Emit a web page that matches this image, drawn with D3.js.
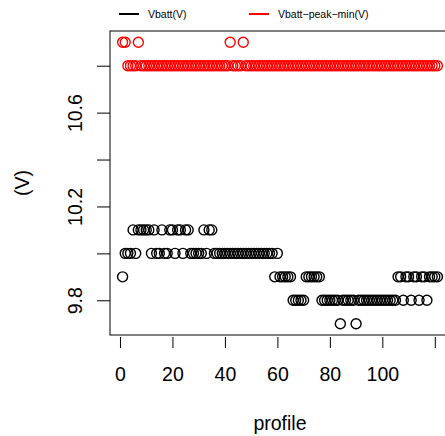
<!DOCTYPE html>
<html>
<head>
<meta charset="utf-8">
<script src="https://cdn.jsdelivr.net/npm/d3@7"></script>
<style>
  html, body { margin: 0; padding: 0; background: #fff; }
  svg { display: block; font-family: "Liberation Sans", Arial, Helvetica, sans-serif; }
</style>
</head>
<body>
<div id="chart"></div>
<script>
// ---- data ----
const seriesNames = ["Vbatt(V)", "Vbatt\u2212peak\u2212min(V)"];
const seriesColors = ["#000000", "#ff0000"];
const vbatt = [
  9.9,10.0,10.0,10.0,10.1,10.0,10.1,10.1,10.1,10.1,10.1,
  10.0,10.1,10.0,10.0,10.1,10.0,10.0,10.1,10.1,10.0,10.1,10.1,10.0,10.1,10.1,
  10.0,10.0,10.0,10.0,10.0,
  10.1,10.0,10.1,10.1,
  10.0,10.0,10.0,10.0,10.0,10.0,10.0,10.0,10.0,10.0,10.0,10.0,
  10.0,10.0,10.0,10.0,10.0,10.0,10.0,10.0,10.0,10.0,10.0,
  9.9,10.0,
  9.9,9.9,9.9,9.9,9.9,
  9.8,9.8,9.8,9.8,9.8,
  9.9,9.9,9.9,9.9,9.9,9.9,
  9.8,9.8,9.8,9.8,9.8,9.8,9.8,
  9.7,
  9.8,9.8,9.8,9.8,9.8,
  9.7,
  9.8,9.8,9.8,9.8,9.8,9.8,9.8,9.8,9.8,9.8,9.8,9.8,9.8,9.8,9.8,
  9.9,9.9,9.8,9.9,9.9,9.8,9.9,9.9,9.8,9.9,9.9,9.8,
  9.9,9.9,9.9,9.9
];
const vbattPeakMin = [
  10.9,10.9,10.8,10.8,10.8,10.8,10.9,10.8,10.8,10.8,
  10.8,10.8,10.8,10.8,10.8,10.8,10.8,10.8,10.8,10.8,
  10.8,10.8,10.8,10.8,10.8,10.8,10.8,10.8,10.8,10.8,
  10.8,10.8,10.8,10.8,10.8,10.8,10.8,10.8,10.8,10.8,
  10.8,10.9,10.8,10.8,10.8,10.8,10.9,10.8,10.8,10.8,
  10.8,10.8,10.8,10.8,10.8,10.8,10.8,10.8,10.8,10.8,
  10.8,10.8,10.8,10.8,10.8,10.8,10.8,10.8,10.8,10.8,
  10.8,10.8,10.8,10.8,10.8,10.8,10.8,10.8,10.8,10.8,
  10.8,10.8,10.8,10.8,10.8,10.8,10.8,10.8,10.8,10.8,
  10.8,10.8,10.8,10.8,10.8,10.8,10.8,10.8,10.8,10.8,
  10.8,10.8,10.8,10.8,10.8,10.8,10.8,10.8,10.8,10.8,
  10.8,10.8,10.8,10.8,10.8,10.8,10.8,10.8,10.8,10.8,
  10.8
];
const profile = d3.range(1, vbatt.length + 1);
const xTicks = [0, 20, 40, 60, 80, 100, 120];
const xTickLabels = ["0", "20", "40", "60", "80", "100", ""];
const yTicks = [9.8, 10.0, 10.2, 10.4, 10.6, 10.8];
const yTickLabels = ["9.8", "", "10.2", "", "10.6", ""];
const xTitle = "profile";
const yTitle = "(V)";

// ---- layout ----
const W = 445, H = 436;
const mLeft = 110, mRight = 450, mTop = 31, mBottom = 335;

const svg = d3.select("#chart").append("svg").attr("width", W).attr("height", H);

// R-style 4% extended domains
const xmin = d3.min(profile), xmax = d3.max(profile);
const allY = vbatt.concat(vbattPeakMin);
const ymin = d3.min(allY), ymax = d3.max(allY);
const xpad = (xmax - xmin) * 0.04, ypad = (ymax - ymin) * 0.04;

const x = d3.scaleLinear().domain([xmin - xpad, xmax + xpad]).range([mLeft, mRight]);
const y = d3.scaleLinear().domain([ymin - ypad, ymax + ypad]).range([mBottom, mTop]);

const fs = 19.5;
const fam = '"Liberation Sans", Arial, sans-serif';

// x axis
const xAxis = svg.append("g")
  .attr("transform", `translate(0,${mBottom + 2})`)
  .call(d3.axisBottom(x).tickValues(xTicks).tickSize(11).tickPadding(19.5)
    .tickFormat((d, i) => xTickLabels[i]));
xAxis.select(".domain").remove();
xAxis.selectAll("line").attr("stroke", "#000").attr("stroke-width", 1);
xAxis.selectAll("text").attr("fill", "#000").style("font-size", fs + "px").style("font-family", fam);

// y axis
const yAxis = svg.append("g")
  .attr("transform", `translate(${mLeft},0)`)
  .call(d3.axisLeft(y).tickValues(yTicks).tickSize(13).tickFormat((d, i) => yTickLabels[i]));
yAxis.select(".domain").remove();
yAxis.selectAll("line").attr("stroke", "#000").attr("stroke-width", 1);
yAxis.selectAll("text")
  .attr("x", null).attr("dy", null)
  .attr("transform", "translate(-28,0) rotate(-90)")
  .attr("text-anchor", "middle")
  .attr("fill", "#000").style("font-size", fs + "px").style("font-family", fam);

// box
svg.append("rect")
  .attr("x", mLeft).attr("y", mTop)
  .attr("width", mRight - mLeft).attr("height", mBottom - mTop)
  .attr("fill", "none").attr("stroke", "#000").attr("stroke-width", 1);

// axis titles
svg.append("text").attr("x", 280).attr("y", 430)
  .attr("text-anchor", "middle").style("font-size", fs + "px").text(xTitle);
svg.append("text")
  .attr("transform", `translate(29,${(mTop + mBottom) / 2}) rotate(-90)`)
  .attr("text-anchor", "middle").style("font-size", fs + "px").text(yTitle);

// points
const series = [vbatt, vbattPeakMin];
series.forEach((vals, si) => {
  svg.append("g").selectAll("circle").data(vals).join("circle")
    .attr("cx", (d, i) => x(profile[i]))
    .attr("cy", d => y(d))
    .attr("r", 5)
    .attr("fill", "none")
    .attr("stroke", seriesColors[si])
    .attr("stroke-width", 1.4);
});

// legend
const legendX = [119, 249];
seriesNames.forEach((name, i) => {
  const g = svg.append("g");
  g.append("line").attr("x1", legendX[i]).attr("x2", legendX[i] + 20)
    .attr("y1", 14).attr("y2", 14)
    .attr("stroke", seriesColors[i]).attr("stroke-width", 2);
  g.append("text").attr("x", legendX[i] + 29).attr("y", 17.8)
    .style("font-size", "10.5px").attr("fill", "#000").text(name);
});
</script>
</body>
</html>
